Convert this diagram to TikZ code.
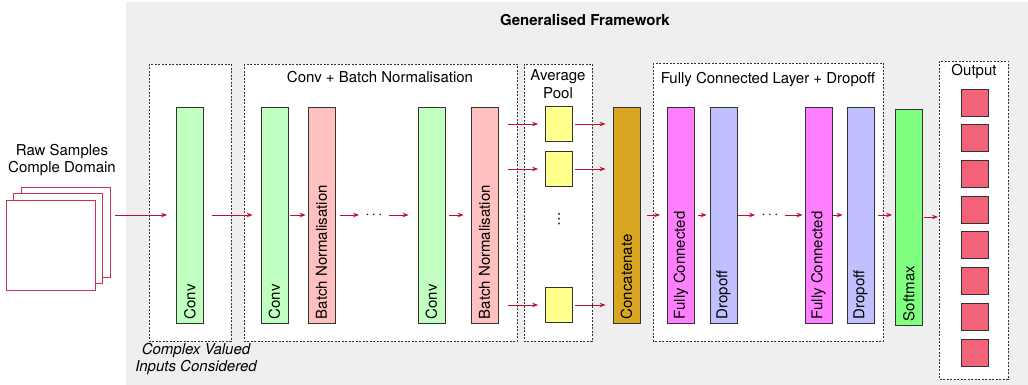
\documentclass[tikz,border=0pt]{standalone}
\usepackage{fontspec}
\setmainfont{TeX Gyre Heros}
\newfontfamily\symfont{DejaVu Sans}
\usepackage{tikz}
\usetikzlibrary{arrows.meta,positioning}

\definecolor{bggray}{HTML}{EFEFEF}
\definecolor{convcol}{HTML}{C0FFC0}
\definecolor{bncol}{HTML}{FFC0C0}
\definecolor{poolcol}{HTML}{FFFF8C}
\definecolor{catcol}{HTML}{DAA520}
\definecolor{fccol}{HTML}{FF80FF}
\definecolor{dropcol}{HTML}{C0C0FF}
\definecolor{smcol}{HTML}{80FF80}
\definecolor{outcol}{HTML}{F26379}
\definecolor{arrcol}{HTML}{C0102E}
\definecolor{edgecol}{HTML}{333333}

\newcommand{\layerbox}[4]{%
  \node[layer,fill=#3] (#1) at (#2,-215) {};
  \node[lbl] at ([yshift=4pt]#1.south) {#4};}

\begin{document}
\begin{tikzpicture}[x=1pt,y=1pt,font=\fontsize{15}{17}\selectfont,
    arr/.style={->,>={Stealth[length=6pt,width=4.5pt]},draw=arrcol,line width=0.8pt},
    layer/.style={draw=edgecol,line width=0.8pt,minimum width=27pt,minimum height=216pt,inner sep=0pt},
    lbl/.style={rotate=90,anchor=west,inner sep=0pt},
    grp/.style={draw=edgecol,dashed,dash pattern=on 2pt off 1.5pt,line width=0.7pt,fill=white},
    sq/.style={draw=edgecol,line width=0.8pt,minimum width=27pt,minimum height=35pt,inner sep=0pt},
    raw/.style={draw=arrcol!85,fill=white,line width=0.8pt,minimum width=89pt,minimum height=90pt,inner sep=0pt}]
    \useasboundingbox (0,0) rectangle (1028,-385);
    \fill[bggray] (126,-2) rectangle (1028,-385);
    \node[font=\fontsize{15}{17}\selectfont\bfseries] (title) at (585,-20) {Generalised Framework};

    \draw[grp] (149,-64) rectangle (231,-341);
    \draw[grp] (244,-64) rectangle (517,-341);
    \draw[grp] (524,-64) rectangle (592,-341);
    \draw[grp] (653,-63) rectangle (883,-341);
    \draw[grp] (939,-61) rectangle (1008,-379);
    \coordinate (outbox) at (939,-217);

    \node (cbtitle) at (380,-77) {Conv + Batch Normalisation};
    \node[align=center,font=\fontsize{15}{18.5}\selectfont] (pooltitle) at (558,-84) {Average\\Pool};
    \node (fctitle) at (768,-80) {Fully Connected Layer + Dropoff};
    \node (outtitle) at (974,-72) {Output};
    \node[align=center,font=\fontsize{15}{17}\selectfont\itshape] (cvtext) at (196,-359) {Complex Valued\\Inputs Considered};

    \node[raw] (raw3) at (65.5,-232) {};
    \node[raw] (raw2) at (57.5,-238.5) {};
    \node[raw] (raw1) at (50.5,-245.5) {};
    \node[align=center] (rawtext) at (62,-160) {Raw Samples\\Comple Domain};

    \layerbox{conv1}{190}{convcol}{Conv}
    \layerbox{conv2}{274.5}{convcol}{Conv}
    \layerbox{bn1}{321.5}{bncol}{Batch Normalisation}
    \node (dotsA) at (374,-215) {$\cdots$};
    \layerbox{conv3}{431.5}{convcol}{Conv}
    \layerbox{bn2}{484.5}{bncol}{Batch Normalisation}

    \node[sq,fill=poolcol] (pool1) at (559,-124) {};
    \node[sq,fill=poolcol] (pool2) at (559,-169) {};
    \node[font=\symfont\fontsize{14}{16}\selectfont] (pooldots) at (559,-219) {⋮};
    \node[sq,fill=poolcol] (pool3) at (559,-305) {};

    \layerbox{concat}{626.5}{catcol}{Concatenate}
    \layerbox{fc1}{681}{fccol}{Fully Connected}
    \layerbox{drop1}{723.5}{dropcol}{Dropoff}
    \node (dotsB) at (770,-215) {$\cdots$};
    \layerbox{fc2}{818.5}{fccol}{Fully Connected}
    \layerbox{drop2}{860.5}{dropcol}{Dropoff}
    \node[layer,fill=smcol] (soft) at (909,-217) {};
    \node[lbl] at ([yshift=4pt]soft.south) {Softmax};

    \foreach \i in {0,...,7}
        \node[sq,fill=outcol,minimum height=27pt] (out\i) at (975,{-102.5-35.7*\i}) {};

    \draw[arr,shorten <=5pt,shorten >=9pt] (raw3.east |- conv1) -- (conv1);
    \draw[arr,shorten <=8pt,shorten >=8pt] (conv1) -- (conv2);
    \draw[arr,shorten <=2pt,shorten >=2pt] (conv2) -- (bn1);
    \draw[arr,shorten <=5pt,shorten >=3pt] (bn1) -- (dotsA);
    \draw[arr,shorten <=3pt,shorten >=9pt] (dotsA) -- (conv3);
    \draw[arr,shorten <=4pt,shorten >=7pt] (conv3) -- (bn2);
    \foreach \p in {pool1,pool2,pool3} {
        \draw[arr,shorten <=10pt,shorten >=7pt] (\p -| bn2.east) -- (\p);
        \draw[arr,shorten <=2pt,shorten >=7pt] (\p) -- (\p -| concat.west);
    }
    \draw[arr,shorten <=7pt,shorten >=7pt] (concat) -- (fc1);
    \draw[arr,shorten <=3pt,shorten >=3pt] (fc1) -- (drop1);
    \draw[arr,shorten <=1pt,shorten >=3pt] (drop1) -- (dotsB);
    \draw[arr,shorten <=3pt,shorten >=2pt] (dotsB) -- (fc2);
    \draw[arr,shorten <=1pt,shorten >=4pt] (fc2) -- (drop2);
    \draw[arr,shorten <=4pt,shorten >=3pt] (drop2.east) -- (drop2.east -| soft.west);
    \draw[arr,shorten <=1pt,shorten >=1pt] (soft) -- (outbox);
\end{tikzpicture}
\end{document}
